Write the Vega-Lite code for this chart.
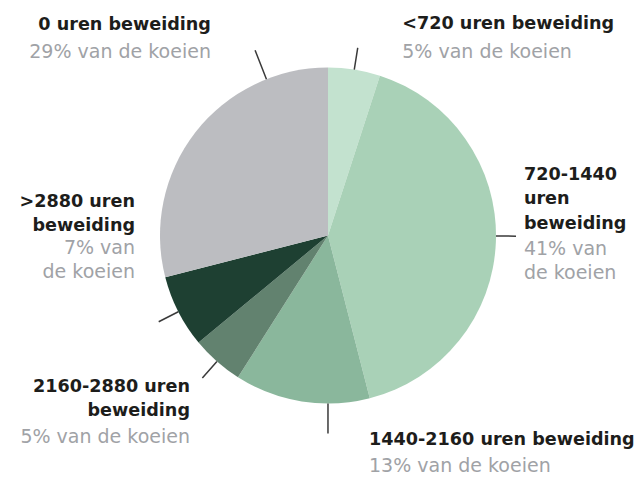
{
  "$schema": "https://vega.github.io/schema/vega-lite/v6.json",
  "width": 622,
  "height": 471,
  "autosize": {"type": "none"},
  "padding": {"left": 17, "top": 0, "right": 0, "bottom": 13},
  "background": "white",
  "config": {"view": {"stroke": null}},
  "data": {
    "values": [
      {"cat": "<720", "label": "<720 uren beweiding", "sub": "5% van de koeien", "pct": 5, "rank": 1},
      {"cat": "720-1440", "label": "720-1440\nuren\nbeweiding", "sub": "41% van\nde koeien", "pct": 41, "rank": 2},
      {"cat": "1440-2160", "label": "1440-2160 uren beweiding", "sub": "13% van de koeien", "pct": 13, "rank": 3},
      {"cat": "2160-2880", "label": "2160-2880 uren\nbeweiding", "sub": "5% van de koeien", "pct": 5, "rank": 4},
      {"cat": ">2880", "label": ">2880 uren\nbeweiding", "sub": "7% van\nde koeien", "pct": 7, "rank": 5},
      {"cat": "0", "label": "0 uren beweiding", "sub": "29% van de koeien", "pct": 29, "rank": 6}
    ]
  },
  "transform": [
    {"stack": "pct", "groupby": [], "sort": [{"field": "rank", "order": "ascending"}], "as": ["start", "end"]},
    {"calculate": "(datum.start + datum.end) / 2", "as": "mid"}
  ],
  "layer": [
    {
      "mark": {"type": "arc", "radius": 168},
      "encoding": {
        "theta": {"field": "start", "type": "quantitative", "stack": null, "scale": {"domain": [0, 100]}},
        "theta2": {"field": "end"},
        "color": {
          "field": "cat", "type": "nominal", "legend": null,
          "scale": {
            "domain": ["<720", "720-1440", "1440-2160", "2160-2880", ">2880", "0"],
            "range": ["#c3e2cf", "#a9d1b7", "#8ab79c", "#62826f", "#1e4032", "#bcbdc1"]
          }
        }
      }
    },
    {
      "transform": [{"filter": "datum.rank == 1 || datum.rank == 4 || datum.rank == 5"}],
      "mark": {"type": "arc", "radius": 190, "radius2": 168, "filled": false, "stroke": "#3a3a3a", "strokeWidth": 1.5},
      "encoding": {
        "theta": {"field": "mid", "type": "quantitative", "stack": null, "scale": {"domain": [0, 100]}},
        "theta2": {"field": "mid"}
      }
    },
    {
      "transform": [{"filter": "datum.rank == 2"}],
      "mark": {"type": "arc", "radius": 188, "radius2": 168, "thetaOffset": -0.028, "theta2Offset": -0.028, "filled": false, "stroke": "#3a3a3a", "strokeWidth": 1.5},
      "encoding": {
        "theta": {"field": "mid", "type": "quantitative", "stack": null, "scale": {"domain": [0, 100]}},
        "theta2": {"field": "mid"}
      }
    },
    {
      "transform": [{"filter": "datum.rank == 6"}],
      "mark": {"type": "arc", "radius": 199, "radius2": 168, "thetaOffset": 0.536, "theta2Offset": 0.536, "filled": false, "stroke": "#3a3a3a", "strokeWidth": 1.5},
      "encoding": {
        "theta": {"field": "mid", "type": "quantitative", "stack": null, "scale": {"domain": [0, 100]}},
        "theta2": {"field": "mid"}
      }
    },
    {
      "transform": [{"filter": "datum.rank == 3"}],
      "mark": {"type": "arc", "radius": 198, "radius2": 168, "thetaOffset": -0.157, "theta2Offset": -0.157, "filled": false, "stroke": "#3a3a3a", "strokeWidth": 1.5},
      "encoding": {
        "theta": {"field": "mid", "type": "quantitative", "stack": null, "scale": {"domain": [0, 100]}},
        "theta2": {"field": "mid"}
      }
    },
    {
      "transform": [{"filter": "datum.rank == 1"}],
      "mark": {"type": "text", "radius": 168, "align": "left", "baseline": "alphabetic", "dx": 48, "dy": -40.3, "font": "DejaVu Sans", "fontSize": 17.6, "fontWeight": "bold", "color": "#1d1d1b", "lineBreak": "\n", "lineHeight": 24.5},
      "encoding": {"theta": {"field": "mid", "type": "quantitative", "stack": null, "scale": {"domain": [0, 100]}}, "text": {"field": "label"}}
    },
    {
      "transform": [{"filter": "datum.rank == 1"}],
      "mark": {"type": "text", "radius": 168, "align": "left", "baseline": "alphabetic", "dx": 48, "dy": -11.3, "font": "DejaVu Sans", "fontSize": 19, "color": "#a0a2a6", "lineBreak": "\n", "lineHeight": 24.5},
      "encoding": {"theta": {"field": "mid", "type": "quantitative", "stack": null, "scale": {"domain": [0, 100]}}, "text": {"field": "sub"}}
    },
    {
      "transform": [{"filter": "datum.rank == 2"}],
      "mark": {"type": "text", "radius": 168, "align": "left", "baseline": "alphabetic", "dx": 28, "dy": -60.8, "font": "DejaVu Sans", "fontSize": 17.6, "fontWeight": "bold", "color": "#1d1d1b", "lineBreak": "\n", "lineHeight": 24.5},
      "encoding": {"theta": {"field": "mid", "type": "quantitative", "stack": null, "scale": {"domain": [0, 100]}}, "text": {"field": "label"}}
    },
    {
      "transform": [{"filter": "datum.rank == 2"}],
      "mark": {"type": "text", "radius": 168, "align": "left", "baseline": "alphabetic", "dx": 28, "dy": 14.2, "font": "DejaVu Sans", "fontSize": 19, "color": "#a0a2a6", "lineBreak": "\n", "lineHeight": 24.5},
      "encoding": {"theta": {"field": "mid", "type": "quantitative", "stack": null, "scale": {"domain": [0, 100]}}, "text": {"field": "sub"}}
    },
    {
      "transform": [{"filter": "datum.rank == 3"}],
      "mark": {"type": "text", "radius": 168, "align": "left", "baseline": "alphabetic", "dx": 67.3, "dy": 43.6, "font": "DejaVu Sans", "fontSize": 17.6, "fontWeight": "bold", "color": "#1d1d1b", "lineBreak": "\n", "lineHeight": 24.5},
      "encoding": {"theta": {"field": "mid", "type": "quantitative", "stack": null, "scale": {"domain": [0, 100]}}, "text": {"field": "label"}}
    },
    {
      "transform": [{"filter": "datum.rank == 3"}],
      "mark": {"type": "text", "radius": 168, "align": "left", "baseline": "alphabetic", "dx": 67.3, "dy": 70.3, "font": "DejaVu Sans", "fontSize": 19, "color": "#a0a2a6", "lineBreak": "\n", "lineHeight": 24.5},
      "encoding": {"theta": {"field": "mid", "type": "quantitative", "stack": null, "scale": {"domain": [0, 100]}}, "text": {"field": "sub"}}
    },
    {
      "transform": [{"filter": "datum.rank == 4"}],
      "mark": {"type": "text", "radius": 168, "align": "right", "baseline": "alphabetic", "dx": -26.9, "dy": 30.2, "font": "DejaVu Sans", "fontSize": 17.6, "fontWeight": "bold", "color": "#1d1d1b", "lineBreak": "\n", "lineHeight": 24.5},
      "encoding": {"theta": {"field": "mid", "type": "quantitative", "stack": null, "scale": {"domain": [0, 100]}}, "text": {"field": "label"}}
    },
    {
      "transform": [{"filter": "datum.rank == 4"}],
      "mark": {"type": "text", "radius": 168, "align": "right", "baseline": "alphabetic", "dx": -26.9, "dy": 81.8, "font": "DejaVu Sans", "fontSize": 19, "color": "#a0a2a6", "lineBreak": "\n", "lineHeight": 24.5},
      "encoding": {"theta": {"field": "mid", "type": "quantitative", "stack": null, "scale": {"domain": [0, 100]}}, "text": {"field": "sub"}}
    },
    {
      "transform": [{"filter": "datum.rank == 5"}],
      "mark": {"type": "text", "radius": 168, "align": "right", "baseline": "alphabetic", "dx": -43.3, "dy": -105.1, "font": "DejaVu Sans", "fontSize": 17.6, "fontWeight": "bold", "color": "#1d1d1b", "lineBreak": "\n", "lineHeight": 24.5},
      "encoding": {"theta": {"field": "mid", "type": "quantitative", "stack": null, "scale": {"domain": [0, 100]}}, "text": {"field": "label"}}
    },
    {
      "transform": [{"filter": "datum.rank == 5"}],
      "mark": {"type": "text", "radius": 168, "align": "right", "baseline": "alphabetic", "dx": -43.3, "dy": -57.8, "font": "DejaVu Sans", "fontSize": 19, "color": "#a0a2a6", "lineBreak": "\n", "lineHeight": 24.5},
      "encoding": {"theta": {"field": "mid", "type": "quantitative", "stack": null, "scale": {"domain": [0, 100]}}, "text": {"field": "sub"}}
    },
    {
      "transform": [{"filter": "datum.rank == 6"}],
      "mark": {"type": "text", "radius": 168, "align": "right", "baseline": "alphabetic", "dx": 15.7, "dy": -103, "font": "DejaVu Sans", "fontSize": 17.6, "fontWeight": "bold", "color": "#1d1d1b", "lineBreak": "\n", "lineHeight": 24.5},
      "encoding": {"theta": {"field": "mid", "type": "quantitative", "stack": null, "scale": {"domain": [0, 100]}}, "text": {"field": "label"}}
    },
    {
      "transform": [{"filter": "datum.rank == 6"}],
      "mark": {"type": "text", "radius": 168, "align": "right", "baseline": "alphabetic", "dx": 15.7, "dy": -74.2, "font": "DejaVu Sans", "fontSize": 19, "color": "#a0a2a6", "lineBreak": "\n", "lineHeight": 24.5},
      "encoding": {"theta": {"field": "mid", "type": "quantitative", "stack": null, "scale": {"domain": [0, 100]}}, "text": {"field": "sub"}}
    }
  ]
}
